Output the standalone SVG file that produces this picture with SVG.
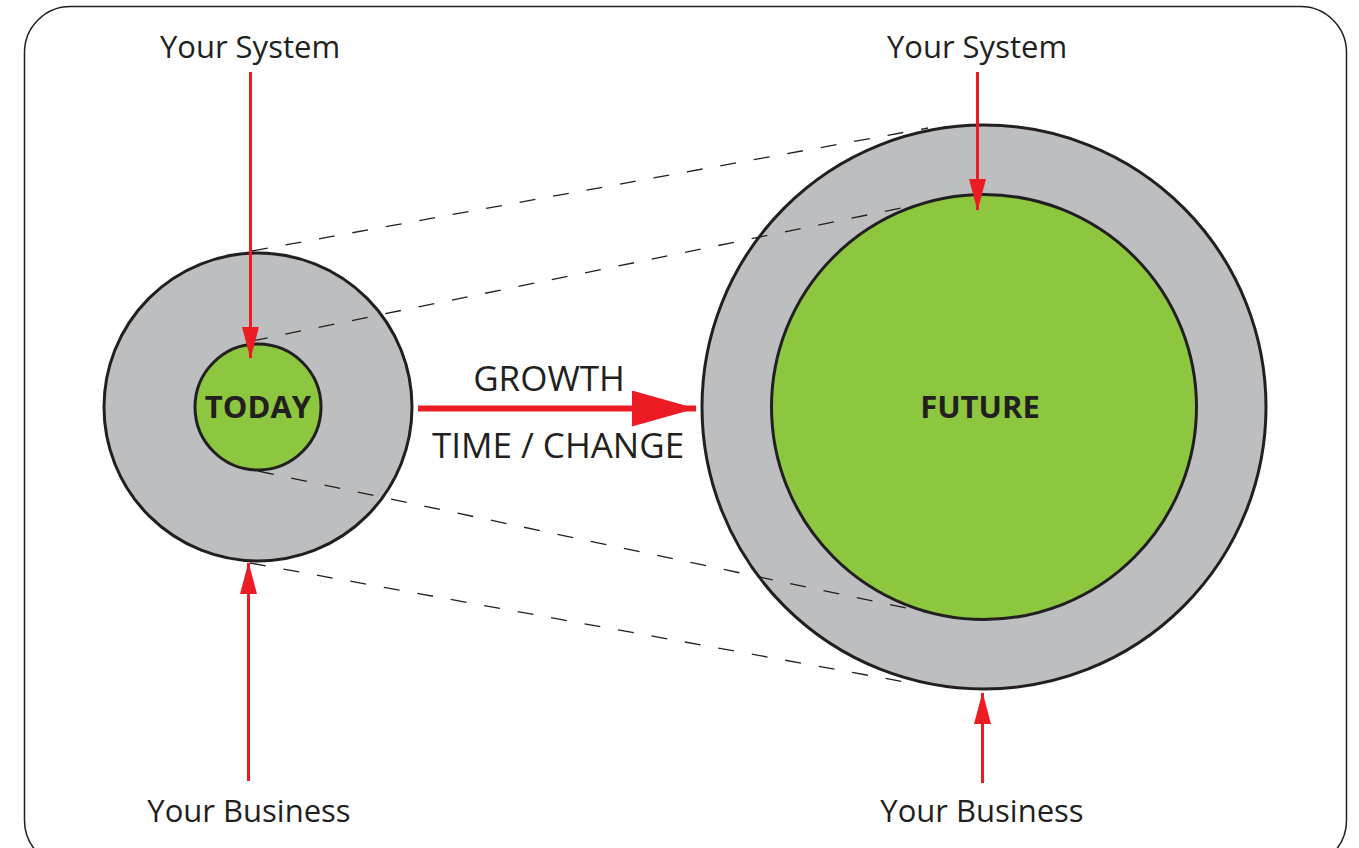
<svg xmlns="http://www.w3.org/2000/svg" width="1359" height="848" viewBox="0 0 1359 848">
<defs>
<style>
.lbl{font-family:"Open Sans","Liberation Sans",sans-serif;font-size:31px;fill:#231f20;text-anchor:middle}
.big{font-size:35px}
.bold{font-family:"Open Sans","Liberation Sans",sans-serif;font-size:31px;font-weight:bold;fill:#231f20;text-anchor:middle}
.outer{fill:#bcbec0;stroke:#231f20;stroke-width:3}
.inner{fill:#8dc63f;stroke:#231f20;stroke-width:3}
.dash{stroke:#231f20;stroke-width:1.3;stroke-dasharray:16 18;fill:none}
.red{stroke:#ed1c24;stroke-width:3;fill:none}
</style>
<marker id="ah" markerUnits="userSpaceOnUse" markerWidth="32" markerHeight="17" refX="31" refY="8.5" orient="auto" viewBox="0 0 32 17">
<path d="M0,0 L32,8.5 L0,17 Z" fill="#ed1c24"/>
</marker>
<marker id="ahBig" markerUnits="userSpaceOnUse" markerWidth="64" markerHeight="36" refX="64" refY="18" orient="auto" viewBox="0 0 64 36">
<path d="M0,0 L64,18 L0,36 Z" fill="#ed1c24"/>
</marker>
</defs>
<rect x="24.5" y="6.5" width="1322" height="860" rx="46" fill="#ffffff" stroke="#231f20" stroke-width="1.5"/>
<g id="today">
<circle class="outer" cx="258" cy="407" r="154"/>
<circle class="inner" cx="258" cy="407" r="63"/>
<text class="bold" x="258" y="418">TODAY</text>
</g>
<g id="future">
<circle class="outer" cx="984" cy="407" r="282"/>
<circle class="inner" cx="984" cy="407" r="212.5"/>
<text class="bold" x="980" y="418">FUTURE</text>
</g>
<g id="labels">
<text class="lbl" x="250" y="58">Your System</text>
<text class="lbl" x="977" y="58">Your System</text>
<text class="lbl" x="249" y="822">Your Business</text>
<text class="lbl" x="982" y="822">Your Business</text>
<text class="lbl big" x="549" y="391">GROWTH</text>
<text class="lbl big" x="558" y="458">TIME / CHANGE</text>
</g>
<g id="connectors">
<line class="dash" x1="252" y1="251" x2="928" y2="128"/>
<line class="dash" x1="252" y1="341" x2="916" y2="205"/>
<line class="dash" x1="258" y1="471" x2="925" y2="612"/>
<line class="dash" x1="250" y1="563" x2="905" y2="682"/>
<line class="red" x1="250.5" y1="72" x2="250.5" y2="358" marker-end="url(#ah)"/>
<line class="red" x1="248.5" y1="781" x2="248.5" y2="563" marker-end="url(#ah)"/>
<line class="red" x1="977.5" y1="72" x2="977.5" y2="210" marker-end="url(#ah)"/>
<line class="red" x1="982.5" y1="783" x2="982.5" y2="693" marker-end="url(#ah)"/>
<line x1="418" y1="408.5" x2="696" y2="408.5" stroke="#ed1c24" stroke-width="6" marker-end="url(#ahBig)"/>
</g>
</svg>
